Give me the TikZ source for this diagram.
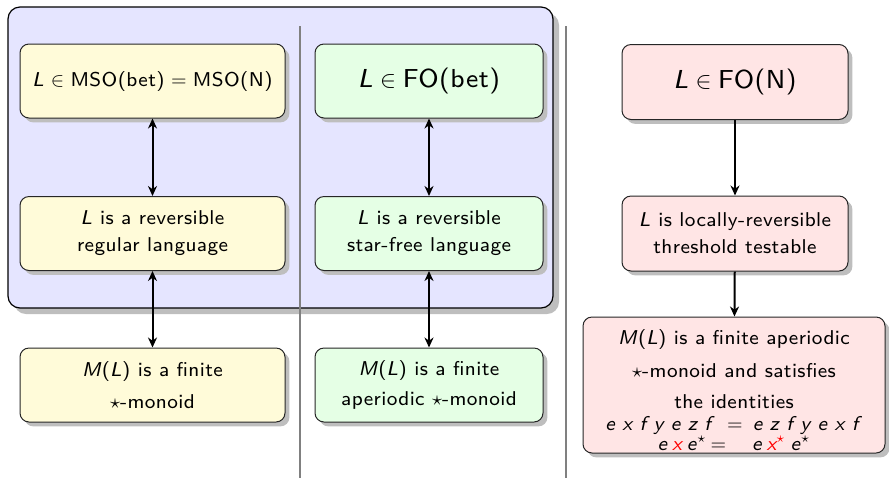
\documentclass[tikz,border=0pt]{standalone}
\usepackage{fontspec}
\setsansfont{lmsans8-regular.otf}[ItalicFont=lmsans8-oblique.otf, LetterSpace=2]
\usetikzlibrary{arrows.meta,shadows}

\definecolor{panelblue}{RGB}{229,229,255}
\definecolor{boxyellow}{RGB}{255,251,217}
\definecolor{boxgreen}{RGB}{229,255,229}
\definecolor{boxpink}{RGB}{255,229,229}
\definecolor{sepgray}{RGB}{128,128,128}
\definecolor{shadowgray}{RGB}{190,190,190}

\newcommand\mi[1]{\textit{#1}}
\newcommand\relsp[1]{\hspace{3.2pt}$#1$\hspace{3.2pt}}

\begin{document}
\begin{tikzpicture}[x=0.5pt, y=-0.5pt,
  shade box/.style={drop shadow={shadow xshift=2.2pt, shadow yshift=-2.2pt,
      fill=shadowgray, opacity=1}},
  panel/.style={draw=black, line width=0.6pt, rounded corners=6pt, fill=panelblue,
      inner sep=0pt, drop shadow={shadow xshift=3pt, shadow yshift=-3pt,
      fill=shadowgray, opacity=1}},
  box/.style={draw=black!85, line width=0.5pt, rounded corners=4.5pt, align=center,
      inner sep=0pt, shade box, font=\sffamily\fontsize{10}{13.4}\selectfont},
  ybox/.style={box, fill=boxyellow, minimum width=132.5pt, minimum height=37pt},
  gbox/.style={box, fill=boxgreen, minimum width=114pt, minimum height=37pt},
  pbox/.style={box, fill=boxpink, minimum width=113pt, minimum height=37.5pt},
  bigtext/.style={font=\sffamily\fontsize{13}{16}\selectfont},
  sep/.style={draw=sepgray, line width=0.8pt},
  both/.style={line width=1pt, {Stealth[length=5pt,width=4.5pt,inset=1.6pt]}-{Stealth[length=5pt,width=4.5pt,inset=1.6pt]}},
  down/.style={line width=1pt, -{Stealth[length=5pt,width=4.5pt,inset=1.6pt]}}
]
\useasboundingbox (0,0) rectangle (889,478);

% background panel around the two left columns
\node[panel, minimum width=272.5pt, minimum height=150.5pt] (panel) at (280.5,157.5) {};

% column separators
\coordinate (s1top) at (300,26);
\coordinate (s1bot) at (300,478);
\coordinate (s2top) at (566,26);
\coordinate (s2bot) at (566,478);
\draw[sep] (s1top) -- (s1bot);
\draw[sep] (s2top) -- (s2bot);

% left column
\node[ybox] (y1) at (152.5,81) {\mi{L}\relsp{\in}MSO(bet)\relsp{=}MSO(N)};
\node[ybox] (y2) at (152.5,233.5) {\mi{L} is a reversible\\regular language};
\node[ybox] (y3) at (152.5,385) {\mi{M}(\mi{L}) is a finite\\[3pt]$\star$-monoid};

% middle column
\node[gbox, bigtext] (g1) at (429,81) {\mi{L}${}\in{}$FO(bet)};
\node[gbox] (g2) at (429,233.5) {\mi{L} is a reversible\\star-free language};
\node[gbox] (g3) at (429,385) {\mi{M}(\mi{L}) is a finite\\[1.6pt]aperiodic $\star$-monoid};

% right column
\node[pbox, bigtext] (p1) at (735,82) {\mi{L}${}\in{}$FO(N)};
\node[pbox] (p2) at (735,233.5) {\mi{L} is locally-reversible\\threshold testable};
\node[pbox, minimum width=151pt, minimum height=68pt] (p3) at (734,385)
  {\rule{0pt}{12.5pt}\mi{M}(\mi{L}) is a finite aperiodic\\[3pt]
   $\star$-monoid and satisfies\\[2pt]
   the identities\\[-2.5pt]
   \mi{e x f y e z f}\hspace{6pt}$=$\hspace{5pt}\mi{e z f y e x f}\\[-3.5pt]
   \mi{e\hspace{2.5pt}\textcolor{red}{x}\hspace{2.5pt}e}$^\star$\hspace{2pt}$=$\hspace{13pt}\mi{e\hspace{2.5pt}\textcolor{red}{x}}\textcolor{red}{$^\star$}\hspace{2.5pt}\mi{e}$^\star$};

% implications
\draw[both] (y1) -- (y2);
\draw[both] (y2) -- (y3);
\draw[both] (g1) -- (g2);
\draw[both] (g2) -- (g3);
\draw[down] (p1) -- (p2);
\draw[down] (p2) -- (p3);
\end{tikzpicture}
\end{document}
